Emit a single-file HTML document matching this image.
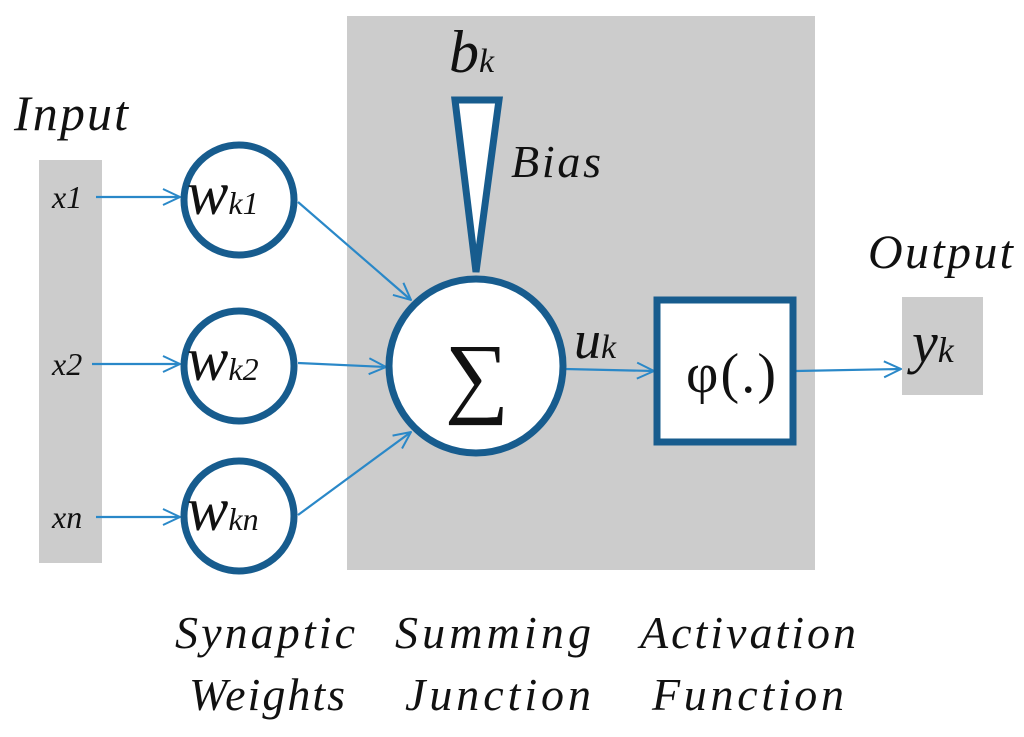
<!DOCTYPE html>
<html><head><meta charset="utf-8"><style>html,body{margin:0;padding:0;background:#fff}svg{display:block}</style></head><body>
<svg width="1024" height="737" viewBox="0 0 1024 737" xmlns="http://www.w3.org/2000/svg" font-family="'Liberation Serif', serif" font-style="italic">
<defs><marker id="a" viewBox="0 0 20 20" refX="19" refY="10" markerWidth="20" markerHeight="20" markerUnits="userSpaceOnUse" orient="auto"><path d="M2 2 L19 10 L2 18" fill="none" stroke="#2a88c8" stroke-width="2"/></marker></defs>
<rect x="39" y="160" width="63" height="403" fill="#cccccc"/>
<rect x="347" y="16" width="468" height="554" fill="#cccccc"/>
<rect x="902" y="297" width="81" height="98" fill="#cccccc"/>
<g stroke="#2a88c8" stroke-width="2.2" fill="none" marker-end="url(#a)">
<line x1="96" y1="197" x2="180" y2="197"/>
<line x1="92" y1="364" x2="180" y2="364"/>
<line x1="96" y1="517" x2="180" y2="517"/>
<line x1="298" y1="202" x2="411" y2="300"/>
<line x1="298" y1="363" x2="386" y2="367"/>
<line x1="298" y1="515" x2="411" y2="432"/>
<line x1="565" y1="369" x2="654" y2="371"/>
<line x1="796" y1="371" x2="901" y2="369"/>
</g>
<g stroke="#175c8e" stroke-width="7" fill="#fff">
<circle cx="239" cy="200" r="55"/>
<circle cx="239" cy="366" r="55"/>
<circle cx="239" cy="516" r="55"/>
<circle cx="476" cy="366" r="87"/>
<rect x="657" y="300" width="136" height="142"/>
<polygon points="455,100 499,100 476,272" stroke-linejoin="miter"/>
</g>
<g fill="#111">
<text x="14" y="130" font-size="50" textLength="114">Input</text>
<text x="52" y="208" font-size="32">x1</text>
<text x="52" y="375" font-size="32">x2</text>
<text x="52" y="528" font-size="32">xn</text>
<text x="187" y="214" font-size="62">w<tspan font-size="32">k1</tspan></text>
<text x="187" y="380" font-size="62">w<tspan font-size="32">k2</tspan></text>
<text x="187" y="530" font-size="62">w<tspan font-size="32">kn</tspan></text>
<text x="449" y="72" font-size="60">b<tspan font-size="34">k</tspan></text>
<text x="511" y="177" font-size="46" textLength="90">Bias</text>
<text x="477" y="406" font-size="90" font-style="normal" text-anchor="middle">∑</text>
<text x="574" y="358" font-size="54">u<tspan font-size="34">k</tspan></text>
<text x="686" y="392" font-size="56" font-style="normal" textLength="90">φ(.)</text>
<text x="868" y="268" font-size="48" textLength="145">Output</text>
<text x="912" y="362" font-size="58">y<tspan font-size="36">k</tspan></text>
<text x="175" y="648" font-size="46" textLength="180">Synaptic</text>
<text x="189" y="710" font-size="46" textLength="156">Weights</text>
<text x="395" y="648" font-size="46" textLength="196">Summing</text>
<text x="405" y="710" font-size="46" textLength="186">Junction</text>
<text x="640" y="648" font-size="46" textLength="216">Activation</text>
<text x="652" y="710" font-size="46" textLength="192">Function</text>
</g>
</svg>
</body></html>
